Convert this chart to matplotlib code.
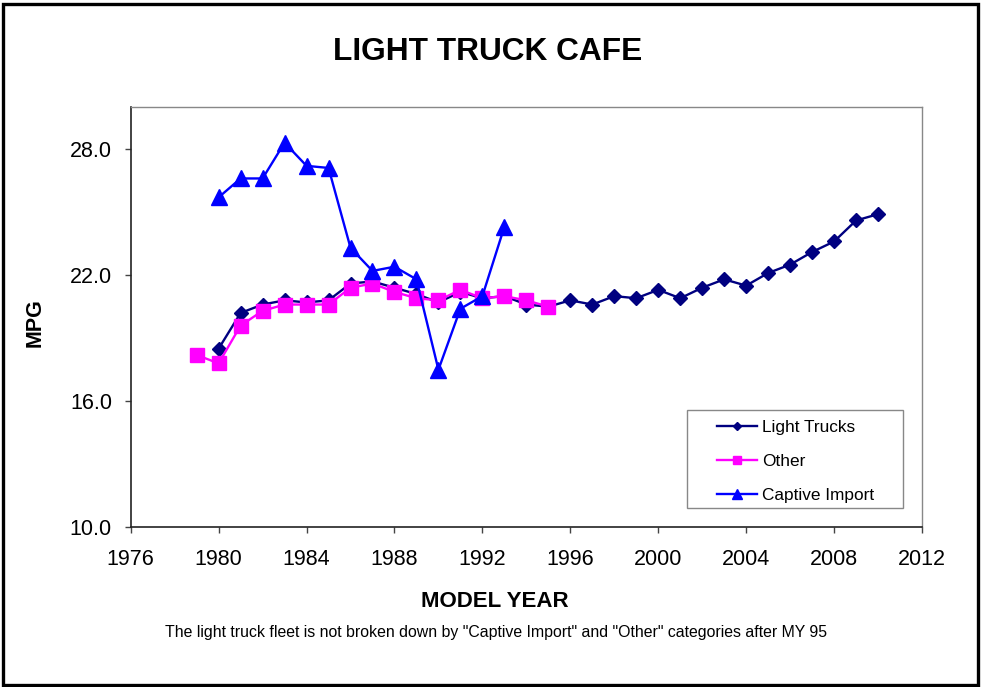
import matplotlib
matplotlib.use("Agg")
import matplotlib.pyplot as plt
from matplotlib.patches import Rectangle

plt.rcParams['font.family'] = ['Liberation Sans', 'DejaVu Sans']

# model years and fleet MPG
years_lt = list(range(1980, 2011))
light_trucks = [18.5, 20.2, 20.6, 20.8, 20.7, 20.8, 21.6, 21.7, 21.4, 21.1,
                20.7, 21.2, 20.9, 21.0, 20.6, 20.5, 20.8, 20.6, 21.0, 20.9,
                21.3, 20.9, 21.4, 21.8, 21.5, 22.1, 22.5, 23.1, 23.6, 24.6, 24.9]

years_other = list(range(1979, 1996))
other = [18.2, 17.8, 19.6, 20.3, 20.6, 20.6, 20.6, 21.4, 21.6, 21.2,
         20.9, 20.8, 21.3, 20.9, 21.0, 20.8, 20.5]

years_ci = list(range(1980, 1994))
captive = [25.7, 26.6, 26.6, 28.3, 27.2, 27.1, 23.3, 22.2, 22.4, 21.8,
           17.5, 20.4, 21.0, 24.3]

xticks = list(range(1976, 2013, 4))
yticks = [10.0, 16.0, 22.0, 28.0]

W, H = 983, 687
fig = plt.figure(figsize=(W / 100, H / 100), dpi=100)
ax = fig.add_axes([130.7 / W, 1 - 527.3 / H, (922 - 130.7) / W, (527.3 - 107) / H])

ax.plot(years_lt, light_trucks, color='#000080', lw=1.7, marker='D', ms=7.5,
        label='Light Trucks', zorder=3)
ax.plot(years_other, other, color='#FF00FF', lw=1.7, marker='s', ms=10,
        label='Other', zorder=4)
ax.plot(years_ci, captive, color='#0000FF', lw=1.7, marker='^', ms=11,
        label='Captive Import', zorder=5)

ax.set_xlim(1976, 2012)
ax.set_ylim(10, 30)
ax.set_xticks(xticks)
ax.set_xticklabels([str(x) for x in xticks])
ax.set_yticks(yticks)
ax.set_yticklabels(['%.1f' % y for y in yticks])
ax.tick_params(axis='both', labelsize=15.5, direction='out', length=4.5,
               width=1, color='#444444')
ax.tick_params(axis='x', pad=11)
ax.tick_params(axis='y', pad=9)

for s in ['top', 'right']:
    ax.spines[s].set_color('#888888')
    ax.spines[s].set_linewidth(1)
for s in ['left', 'bottom']:
    ax.spines[s].set_color('#222222')
    ax.spines[s].set_linewidth(1.2)

# legend entries without frame, box drawn separately (Excel style padding)
box = Rectangle((687 / W, 1 - 508 / H), 216 / W, 98 / H,
                transform=fig.transFigure, facecolor='white',
                edgecolor='#888888', linewidth=1, zorder=6, clip_on=False)
ax.add_patch(box)
leg = ax.legend(loc='upper left', bbox_to_anchor=(717 / W, 1 - 420 / H),
                bbox_transform=fig.transFigure, fontsize=12.4, frameon=False,
                markerscale=0.6, handlelength=2.35, handletextpad=0.25,
                labelspacing=1.1, borderpad=0, borderaxespad=0)
leg.set_zorder(7)

fig.text(488 / W, 1 - 60 / H, 'LIGHT TRUCK CAFE', ha='center', va='baseline',
         fontsize=22.8, fontweight='bold')
fig.text(495 / W, 1 - 607 / H, 'MODEL YEAR', ha='center', va='baseline',
         fontsize=16, fontweight='bold')
fig.text(35 / W, 1 - 323 / H, 'MPG', ha='center', va='center', rotation=90,
         fontsize=15.5, fontweight='bold')
fig.text(496 / W, 1 - 637 / H,
         'The light truck fleet is not broken down by "Captive Import" and '
         '"Other" categories after MY 95',
         ha='center', va='baseline', fontsize=11.4)

fig.patches.append(Rectangle((3 / W, 1 - 685 / H), 975 / W, 681 / H,
                             transform=fig.transFigure, fill=False,
                             edgecolor='black', linewidth=2.4))

fig.savefig('out.png', dpi=100)
